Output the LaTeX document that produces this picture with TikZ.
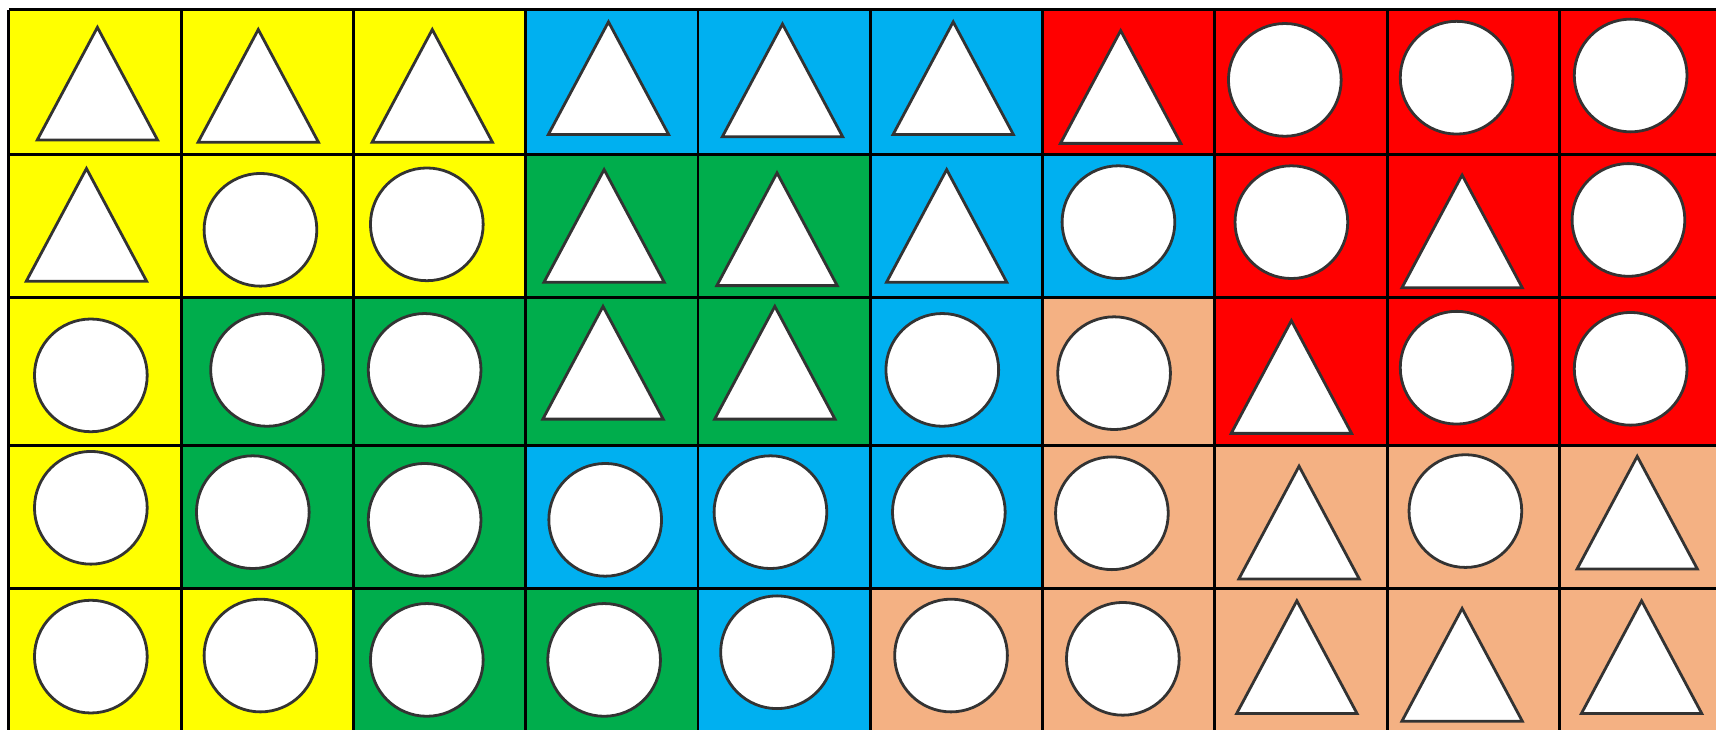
\documentclass[tikz,border=0pt]{standalone}
\usepackage{tikz}
\definecolor{cY}{RGB}{255,255,0}
\definecolor{cB}{RGB}{0,176,240}
\definecolor{cG}{RGB}{0,173,76}
\definecolor{cR}{RGB}{255,0,0}
\definecolor{cP}{RGB}{244,177,131}
\tikzset{
  % cells and grid
  gridline/.style = {draw=black, line width=0.85pt},
  % white shapes
  blob/.style     = {draw=black!80, fill=white, line width=0.8pt, line join=miter},
}

\begin{document}
\begin{tikzpicture}[x=0.011cm, y=-0.011cm]
\useasboundingbox[fill=white] (0,0) rectangle (1568,667);

% ---------- Coloured cells ----------
\foreach \ytop/\ybot/\cols in {
    9/141/{cY,cY,cY,cB,cB,cB,cR,cR,cR,cR},
    141/272/{cY,cY,cY,cG,cG,cB,cB,cR,cR,cR},
    272/407/{cY,cG,cG,cG,cG,cB,cP,cR,cR,cR},
    407/538/{cY,cG,cG,cB,cB,cB,cP,cP,cP,cP},
    538/667/{cY,cY,cG,cG,cB,cP,cP,cP,cP,cP}} {
  \foreach \c [count=\i from 0] in \cols {
    \fill[\c] ({8.2+157.4*\i},\ytop) rectangle ++(157.4,{\ybot-\ytop});
  }
}

% ---------- Grid ----------
\foreach \i in {0,...,9} {
  \draw[gridline] ({8.2+157.4*\i},9) -- ({8.2+157.4*\i},667);
}
\foreach \y in {9,141,272,407,538} {
  \draw[gridline] (8.2,\y) -- (1568,\y);
}

% ---------- Circles ----------
\foreach \x/\y in {1174/73, 1331/71, 1490/69,
    238/210, 390/205, 1022/203, 1180/203, 1488/201,
    83/343, 244/338, 388/338, 861/338, 1018/341, 1331/336, 1490/337,
    83/464, 231/468, 388/475, 553/475, 704/468, 867/468, 1016/469, 1339/467,
    83/600, 238/599, 390/603, 552/603, 710/596, 869/599, 1026/602} {
  \draw[blob] (\x,\y) circle[radius=51.5];
}

% ---------- Triangles (apex points) ----------
\foreach \x/\y in {89/25, 236/27, 395/27, 556/20, 715/22, 871/20, 1024/28,
    79/154, 552/155, 710/158, 865/155, 1336/160,
    551/280, 708/280, 1180/293,
    1187/426, 1496/417,
    1185/549, 1336/556, 1500/549} {
  \draw[blob] (\x,\y) -- ++(55,103) -- ++(-110,0) -- cycle;
}

\end{tikzpicture}
\end{document}
